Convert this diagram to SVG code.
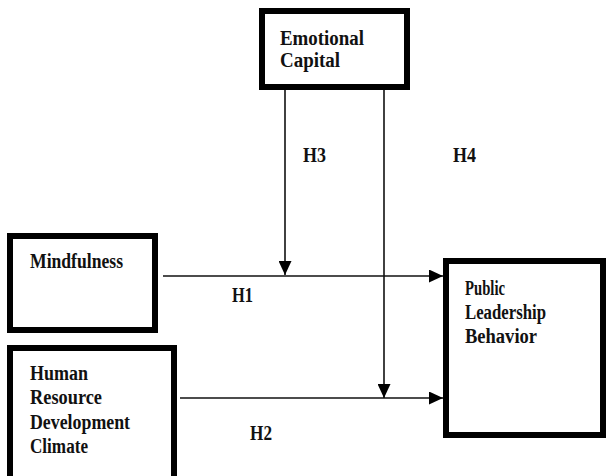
<svg xmlns="http://www.w3.org/2000/svg" width="607" height="476" viewBox="0 0 607 476">
<defs>
<style>
.box{fill:#fff;stroke:#000;stroke-width:6}
.lbl{font-family:"Liberation Serif","Times New Roman",serif;font-weight:bold;font-size:20px;fill:#111}
.edge{stroke:#111;stroke-width:1.6;fill:none;marker-end:url(#ah)}
</style>
<marker id="ah" markerUnits="userSpaceOnUse" markerWidth="15" markerHeight="13" refX="14" refY="6.5" orient="auto">
<path d="M0,0 L14,6.5 L0,13 Z" fill="#000"/>
</marker>
</defs>
<rect width="607" height="476" fill="#fff"/>
<g id="connectors">
<line class="edge" x1="163" y1="276" x2="443" y2="276"/>
<line class="edge" x1="180" y1="398" x2="443" y2="398"/>
<line class="edge" x1="285" y1="90" x2="285" y2="275"/>
<line class="edge" x1="384" y1="90" x2="384" y2="398"/>
<text class="lbl" x="303" y="162" textLength="23" lengthAdjust="spacingAndGlyphs">H3</text>
<text class="lbl" x="453" y="162" textLength="23" lengthAdjust="spacingAndGlyphs">H4</text>
<text class="lbl" x="232" y="302" textLength="21" lengthAdjust="spacingAndGlyphs">H1</text>
<text class="lbl" x="250" y="440" textLength="22" lengthAdjust="spacingAndGlyphs">H2</text>
</g>
<g id="emotional-capital">
<rect class="box" x="262" y="11" width="145" height="76"/>
<text class="lbl" x="280" y="45" textLength="84" lengthAdjust="spacingAndGlyphs">Emotional</text>
<text class="lbl" x="280" y="67" textLength="60" lengthAdjust="spacingAndGlyphs">Capital</text>
</g>
<g id="mindfulness">
<rect class="box" x="10" y="236" width="145" height="94"/>
<text class="lbl" x="30" y="268" textLength="93" lengthAdjust="spacingAndGlyphs">Mindfulness</text>
</g>
<g id="hrd-climate">
<rect class="box" x="10" y="348" width="164" height="140"/>
<text class="lbl" x="30" y="380" textLength="58" lengthAdjust="spacingAndGlyphs">Human</text>
<text class="lbl" x="30" y="404" textLength="72" lengthAdjust="spacingAndGlyphs">Resource</text>
<text class="lbl" x="30" y="429" textLength="100" lengthAdjust="spacingAndGlyphs">Development</text>
<text class="lbl" x="30" y="453" textLength="58" lengthAdjust="spacingAndGlyphs">Climate</text>
</g>
<g id="public-leadership-behavior">
<rect class="box" x="446" y="261" width="157" height="174"/>
<text class="lbl" x="465" y="295" textLength="40" lengthAdjust="spacingAndGlyphs">Public</text>
<text class="lbl" x="465" y="319" textLength="81" lengthAdjust="spacingAndGlyphs">Leadership</text>
<text class="lbl" x="465" y="343" textLength="72" lengthAdjust="spacingAndGlyphs">Behavior</text>
</g>
</svg>
